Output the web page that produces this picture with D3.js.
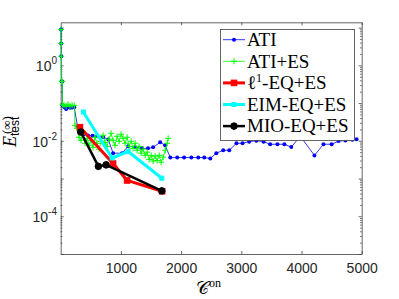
<!DOCTYPE html>
<html>
<head>
<meta charset="utf-8">
<script src="https://cdn.jsdelivr.net/npm/d3@7"></script>
<style>
  body { margin: 0; background: #fff; }
  svg { display: block; }
  .axis path, .axis line { stroke: #404040; stroke-width: 0.8; }
  .axis text { font-family: "Liberation Sans", Arial, sans-serif; font-size: 14px; fill: #262626; }
</style>
</head>
<body>
<svg id="MyGraph" width="399" height="299"></svg>
<script>
// computational cost C^on vs. test error
var atiC = [5, 8, 10, 15, 25, 30, 60, 90, 120, 155, 190, 225, 280, 380, 455, 530, 610, 705, 790,
  870, 1020, 1120, 1236, 1350, 1450, 1535, 1652, 1735, 1820, 1935, 2050, 2170, 2285, 2385, 2485,
  2585, 2700, 2800, 2920, 3020, 3130, 3250, 3370, 3480, 3600, 3715, 3830, 3980, 4215, 4365, 4500,
  4615, 4730, 4845, 4915];
var atiE = [8.9, 3.8, 1.74, 0.38, 0.37, 0.087, 0.078, 0.070, 0.078, 0.075, 0.076, 0.077, 0.024, 0.0148,
  0.0138, 0.0135, 0.0132, 0.0124, 0.0109, 0.0047, 0.0047, 0.0072, 0.0067, 0.0063, 0.0063, 0.0067,
  0.0091, 0.0076, 0.0036, 0.0036, 0.0036, 0.0036, 0.0036, 0.0036, 0.0034, 0.0047, 0.0056, 0.0056,
  0.0086, 0.0086, 0.0095, 0.0100, 0.0095, 0.0081, 0.0081, 0.0081, 0.0068, 0.0132, 0.0041, 0.0081,
  0.0081, 0.0098, 0.0102, 0.0106, 0.0110];

var atiEsC = [5, 8, 10, 15, 25, 30, 55, 90, 120, 155, 190, 225, 238, 271, 304, 338, 371, 404, 438, 471,
  504, 537, 571, 604, 637, 671, 704, 737, 770, 804, 837, 870, 903, 937, 970, 1003, 1037, 1070, 1103,
  1136, 1170, 1203, 1236, 1270, 1303, 1336, 1369, 1403, 1436, 1469, 1503, 1536, 1569, 1602, 1636,
  1669, 1702, 1736, 1769, 1785];
var atiEsE = [8.9, 3.8, 1.74, 0.38, 0.37, 0.093, 0.087, 0.082, 0.093, 0.082, 0.087, 0.087, 0.0257,
  0.0214, 0.0124, 0.0103, 0.0149, 0.0086, 0.0116, 0.0076, 0.0103, 0.0067, 0.0124, 0.0086, 0.0060,
  0.0097, 0.0140, 0.0091, 0.0071, 0.0110, 0.0158, 0.0103, 0.0076, 0.0132, 0.0097, 0.0149, 0.0116,
  0.0086, 0.0124, 0.0071, 0.0097, 0.0063, 0.0086, 0.0056, 0.0071, 0.0047, 0.0060, 0.0041, 0.0050,
  0.0032, 0.0041, 0.0029, 0.0039, 0.0030, 0.0041, 0.0027, 0.0037, 0.0056, 0.0086, 0.0116];

var l1C = [320, 870, 1103, 1685];
var l1E = [0.0229, 0.0025, 0.00089, 0.00046];

var eimC = [376, 853, 1120, 1680];
var eimE = [0.058, 0.0035, 0.0052, 0.00102];

var mioC = [333, 626, 754, 1680];
var mioE = [0.0171, 0.0021, 0.0023, 0.00047];

var seriesNames = ["ATI", "ATI+ES", "l1", "EIM-EQ+ES", "MIO-EQ+ES"];
var xTicks = [1000, 2000, 3000, 4000, 5000];
var yLabelExp = [0, -2, -4];

function zip(cs, es) {
  return cs.map(function(c, i) { return {c: c, e: es[i]}; });
}

var series = [
  {name: seriesNames[0], data: zip(atiC, atiE), color: "#0000ff", width: 0.8, marker: "dot", size: 2},
  {name: seriesNames[1], data: zip(atiEsC, atiEsE), color: "#00ff00", width: 0.8, marker: "plus", size: 3},
  {name: seriesNames[2], data: zip(l1C, l1E), color: "#ff0000", width: 3, marker: "square", size: 2.8},
  {name: seriesNames[3], data: zip(eimC, eimE), color: "#00ffff", width: 3, marker: "square", size: 2},
  {name: seriesNames[4], data: zip(mioC, mioE), color: "#000000", width: 2.5, marker: "circle", size: 3.3}
];

var svg = d3.select("#MyGraph");
var margin = {top: 22.3, right: 37.3, bottom: 45, left: 60.7},
    width = 399 - margin.left - margin.right,
    height = 299 - margin.top - margin.bottom;

var x = d3.scaleLinear().domain([0, 5000]).range([margin.left, margin.left + width]);
var y = d3.scaleLog().domain([1e-5, Math.pow(10, 1.14)]).range([margin.top + height, margin.top]);

// minor / major log ticks
var majors = [], minors = [];
for (var p = -5; p <= 1; p++) {
  majors.push(Math.pow(10, p));
  for (var k = 2; k <= 9; k++) {
    var v = k * Math.pow(10, p);
    if (v <= y.domain()[1]) minors.push(v);
  }
}

svg.append("g").attr("class", "axis")
    .attr("transform", "translate(0," + (margin.top + height) + ")")
    .call(d3.axisBottom(x).tickValues(xTicks).tickSizeInner(-3).tickSizeOuter(0).tickPadding(9.5).tickFormat(d3.format("d")));
svg.append("g").attr("class", "axis")
    .attr("transform", "translate(0," + margin.top + ")")
    .call(d3.axisTop(x).tickValues(xTicks).tickSizeInner(-3).tickSizeOuter(0).tickFormat(""));

[[d3.axisLeft, margin.left], [d3.axisRight, margin.left + width]].forEach(function(a) {
  svg.append("g").attr("class", "axis")
      .attr("transform", "translate(" + a[1] + ",0)")
      .call(a[0](y).tickValues(majors).tickSizeInner(-3).tickSizeOuter(0).tickFormat(""));
  svg.append("g").attr("class", "axis")
      .attr("transform", "translate(" + a[1] + ",0)")
      .call(a[0](y).tickValues(minors).tickSizeInner(-1.6).tickSizeOuter(0).tickFormat(""))
      .select(".domain").remove();
});

var yl = svg.append("g").selectAll("text")
    .data(yLabelExp)
    .enter().append("text")
    .attr("x", 57)
    .attr("y", function(d) { return y(Math.pow(10, d)) + 6; })
    .attr("text-anchor", "end")
    .style("font-family", "'Liberation Sans', Arial, sans-serif")
    .style("font-size", "14px")
    .attr("fill", "#262626");
yl.append("tspan").text("10");
yl.append("tspan").attr("dy", -7).style("font-size", "10px").text(function(d) { return d === 0 ? "0" : d; });

// data
var plot = svg.append("g");
var line = d3.line().x(function(d) { return x(d.c); }).y(function(d) { return y(d.e); });

function drawMarker(sel, s) {
  if (s.marker === "dot" || s.marker === "circle") {
    sel.append("circle").attr("r", s.size).attr("fill", s.color).attr("stroke", s.color).attr("stroke-width", s.marker === "circle" ? 1 : 0);
  } else if (s.marker === "square") {
    sel.append("rect").attr("x", -s.size).attr("y", -s.size).attr("width", 2 * s.size).attr("height", 2 * s.size)
        .attr("fill", s.color).attr("stroke", s.color);
  } else {
    sel.append("path").attr("d", "M" + (-s.size) + ",0H" + s.size + "M0," + (-s.size) + "V" + s.size)
        .attr("stroke", s.color).attr("stroke-width", 1).attr("fill", "none");
  }
}

series.forEach(function(s) {
  plot.append("path").datum(s.data)
      .attr("fill", "none").attr("stroke", s.color).attr("stroke-width", s.width)
      .attr("stroke-linejoin", "round").attr("d", line);
  plot.append("g").selectAll("g")
      .data(s.data)
      .enter().append("g")
      .attr("transform", function(d) { return "translate(" + x(d.c) + "," + y(d.e) + ")"; })
      .each(function() { drawMarker(d3.select(this), s); });
});

// axis labels
svg.append("text")
    .attr("x", 196).attr("y", 294)
    .style("font-family", "'DejaVu Serif', 'Liberation Serif', serif")
    .style("font-size", "18px")
    .text("\uD835\uDC9E")
    .append("tspan").attr("dy", -7).style("font-size", "12px")
    .style("font-family", "'Liberation Serif', serif").text("on");

var ylab = svg.append("g").attr("transform", "translate(15.5,147) rotate(-90)");
ylab.append("text").attr("x", 0).attr("y", 0)
    .style("font-family", "'Liberation Serif', serif").style("font-style", "italic").style("font-size", "18px")
    .text("E");
ylab.append("text").attr("x", 13).attr("y", -4.5)
    .style("font-family", "'Liberation Serif', serif").style("font-size", "13px")
    .text("(\u221E)");
ylab.append("text").attr("x", 11).attr("y", 3.5)
    .style("font-family", "'Liberation Sans', sans-serif").style("font-size", "12px")
    .text("test");

// legend
var legend = svg.append("g");
legend.append("rect")
    .attr("x", 220.5).attr("y", 29.5).attr("width", 134).attr("height", 111)
    .attr("fill", "#fff").attr("stroke", "#404040").attr("stroke-width", 0.8);

var items = legend.selectAll("g.item")
    .data(series)
    .enter().append("g")
    .attr("class", "item")
    .attr("transform", function(d, i) { return "translate(0," + (39.7 + i * 21.6) + ")"; });

items.append("line")
    .attr("x1", 223).attr("x2", 245)
    .attr("stroke", function(d) { return d.color; })
    .attr("stroke-width", function(d) { return d.width; });
items.append("g").attr("transform", "translate(234,0)")
    .each(function(d) { drawMarker(d3.select(this), d); });

var lt = items.append("text")
    .attr("x", 247).attr("y", 6.3)
    .style("font-family", "'Liberation Serif', serif")
    .style("font-size", "19px")
    .attr("fill", "#000");
lt.each(function(d) {
  var t = d3.select(this);
  if (d.name === "l1") {
    t.append("tspan").text("\u2113");
    t.append("tspan").attr("dy", -7).style("font-size", "12px").text("1");
    t.append("tspan").attr("dy", 7).text("-EQ+ES");
  } else {
    t.text(d.name);
  }
});
</script>
</body>
</html>
